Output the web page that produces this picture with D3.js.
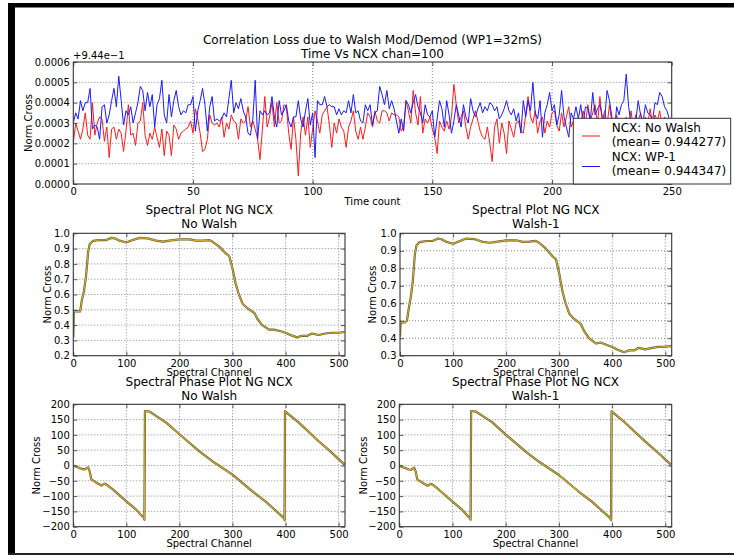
<!DOCTYPE html>
<html><head><meta charset="utf-8">
<script src="https://cdn.jsdelivr.net/npm/d3@7"></script>
<style>
body{margin:0;background:#fff;overflow:hidden}
svg{display:block}
text{font-family:"DejaVu Sans",sans-serif;fill:#000}
</style>
</head><body>
<svg id="chart" width="734" height="555"></svg>
<script>
// ---------- DATA ----------
// Top plot: Norm Cross vs time count, stored as offsets from 0.944 in units of 1e-4
const offsetBase = 0.944;
const timeTicks = [0, 50, 100, 150, 200, 250];
const timeYTicks = [0, 1, 2, 3, 4, 5, 6];
const seriesNames = ["NCX: No Walsh", "NCX: WP-1"];
const seriesMeans = ["(mean= 0.944277)", "(mean= 0.944347)"];
const noWalshTime = [
2.0,3.0,2.6,2.2,2.7,3.5,2.4,2.2,4.0,2.4, 3.0,3.3,3.2,2.1,2.8,1.3,2.7,2.8,2.2,2.7,
2.5,1.6,2.6,3.9,2.4,2.5,1.9,3.0,3.1,4.0, 2.4,1.9,2.5,2.2,2.8,2.3,1.8,2.7,1.4,2.6,
2.4,1.4,2.9,2.7,2.2,2.5,2.6,2.7,2.8,3.1, 2.5,3.7,3.2,2.5,1.6,1.7,2.2,3.4,3.0,2.9,
3.0,2.8,3.3,2.3,3.0,2.7,3.4,3.1,3.0,2.2, 3.2,3.0,3.1,3.8,2.8,3.1,2.7,2.2,1.2,2.7,
4.3,2.8,3.3,4.0,2.8,4.0,3.0,3.1,3.9,3.8, 2.5,1.7,3.3,2.2,0.4,2.5,3.3,2.4,3.3,1.8,
2.7,3.6,3.1,2.5,3.4,3.6,3.8,2.9,1.8,3.0, 2.5,3.2,2.8,2.6,1.8,2.8,3.1,3.6,2.6,2.2,
2.8,2.2,2.8,3.5,3.3,2.8,3.6,3.1,3.0,3.6, 3.6,3.5,3.1,3.5,3.4,3.4,3.3,2.6,2.8,4.1,
3.6,3.0,4.6,3.5,2.9,4.3,2.5,3.2,3.0,3.3, 2.7,2.3,1.5,3.1,2.8,2.6,3.1,2.7,3.3,4.9,
3.9,3.0,3.3,3.6,2.8,2.2,2.8,3.2,3.6,3.1, 2.6,2.3,2.2,2.8,2.0,1.1,2.8,3.2,2.0,3.0,
2.5,1.5,3.1,2.7,2.3,3.0,3.1,2.6,2.5,3.4, 4.3,3.3,3.0,3.6,2.5,3.1,3.3,2.5,3.1,2.8,
3.5,3.6,2.9,2.6,3.5,2.8,3.3,3.8,2.8,3.1, 2.5,3.1,2.9,3.6,3.0,3.9,3.1,3.5,3.9,2.9,
4.3,3.1,3.6,2.9,3.9,3.0,2.6,3.4,2.8,3.2, 2.5,3.3,2.9,3.6,2.7,3.4,3.1,3.5,2.8,3.3,
3.0,3.7,2.9,3.4,3.1,3.6,2.8,3.3,3.0,2.9
];
const wp1Time = [
3.0,3.5,3.2,4.1,3.6,4.0,4.0,4.7,2.7,2.9, 2.8,2.2,3.8,3.9,3.0,3.4,4.1,4.7,3.8,5.3,
4.1,2.9,3.6,3.4,3.8,3.0,3.5,4.0,4.8,4.6, 3.6,4.5,3.8,4.4,2.8,3.9,4.2,5.1,3.4,3.0,
4.4,3.3,4.1,4.6,3.8,3.4,3.6,3.5,3.9,3.9, 4.3,2.6,3.6,4.1,4.7,3.9,2.6,3.8,4.3,3.1,
3.2,3.1,3.2,3.5,3.3,4.2,5.1,3.5,4.0,3.7, 4.2,3.6,3.3,2.5,2.4,3.2,5.1,2.2,3.6,3.4,
3.6,3.4,3.5,4.3,3.3,2.8,4.1,3.4,3.6,3.9, 3.1,2.8,3.3,3.3,4.1,3.2,2.8,3.6,4.2,2.9,
3.5,1.3,4.1,3.9,3.9,4.3,3.8,3.9,3.8,3.8, 3.4,3.7,3.4,3.6,3.5,4.1,3.5,4.4,3.5,3.6,
3.1,3.0,3.9,3.6,3.9,2.9,3.5,3.6,4.8,4.4, 3.9,4.6,3.7,4.1,3.7,3.1,2.5,3.2,2.6,4.1,
3.9,3.5,4.0,4.4,3.8,3.5,3.0,3.9,3.4,3.3, 3.6,2.3,3.2,4.1,3.7,2.8,4.1,3.4,2.5,3.1,
3.9,3.4,2.8,3.9,3.3,3.0,4.2,3.6,3.3,3.7, 4.0,3.5,3.8,3.6,4.0,3.9,3.6,3.8,3.2,3.4,
3.7,4.1,3.6,3.4,3.7,3.1,3.5,2.5,4.1,3.3, 4.1,3.6,5.0,3.5,3.2,4.1,2.3,3.5,3.9,4.5,
3.6,3.9,2.9,3.4,4.6,3.3,2.8,2.3,3.5,3.2, 3.8,3.2,3.9,3.0,3.8,3.7,3.1,4.5,3.4,3.7,
3.9,3.3,3.2,4.6,4.1,3.3,2.5,3.8,3.4,3.9, 4.1,5.4,3.8,3.0,2.6,3.1,4.1,3.4,3.0,3.9,
3.5,3.4,3.1,4.0,3.9,4.5,4.3,3.8,3.6,3.2
];

// Spectral amplitude plots
const chanTicks = [0, 100, 200, 300, 400, 500];
const ampChan = [0,1,9,13,16,20,24,28,31,37,50,62,72,78,87,100,112,125,140,156,169,181,200,219,231,244,256,262,275,287,294,300,306,312,319,328,341,347,356,369,378,391,400,409,422,431,441,450,462,475,487,500,511];
const ampNoWalsh = [0.32,0.49,0.49,0.49,0.56,0.62,0.72,0.88,0.93,0.95,0.956,0.956,0.97,0.967,0.952,0.94,0.956,0.97,0.967,0.952,0.946,0.952,0.96,0.96,0.952,0.952,0.956,0.946,0.913,0.87,0.85,0.77,0.67,0.60,0.54,0.51,0.48,0.44,0.40,0.37,0.37,0.36,0.35,0.335,0.32,0.33,0.33,0.345,0.335,0.345,0.35,0.35,0.355];
const ampWalsh1 = [0.41,0.49,0.49,0.50,0.56,0.63,0.72,0.88,0.93,0.95,0.956,0.957,0.97,0.966,0.952,0.94,0.955,0.97,0.967,0.951,0.946,0.951,0.96,0.96,0.951,0.952,0.957,0.946,0.912,0.87,0.85,0.77,0.67,0.60,0.54,0.51,0.48,0.44,0.40,0.37,0.375,0.36,0.35,0.335,0.32,0.33,0.33,0.345,0.336,0.345,0.35,0.352,0.355];
const ampTicksNoWalsh = [0.2,0.3,0.4,0.5,0.6,0.7,0.8,0.9,1.0];
const ampTicksWalsh1 = [0.3,0.4,0.5,0.6,0.7,0.8,0.9,1.0];

// Spectral phase plots
const phaseTicks = [-200,-150,-100,-50,0,50,100,150,200];
const phaseChan = [0,5,12,18,22,26,28,31,34,40,44,50,53,59,62,75,100,119,133,134,135,144,175,200,237,262,300,337,362,397,398,399,425,462,487,511];
const phaseNoWalsh = [0,-4,-8,-12,-13,-8,-6,-20,-46,-52,-57,-62,-66,-59,-62,-79,-117,-145,-172,-177,178,176,140,102,47,14,-30,-84,-117,-172,-178,177,140,80,42,3];
const phaseWalsh1 = [0,-5,-9,-13,-14,-9,-7,-21,-47,-52,-57,-63,-66,-60,-62,-80,-118,-146,-173,-177,178,176,141,101,46,13,-31,-85,-118,-173,-178,177,139,79,41,2];

// ---------- DRAW ----------
const svg = d3.select("#chart");
const FONT = "DejaVu Sans, sans-serif";

// outer dark frame of the screenshot
svg.append("rect").attr("x",8).attr("y",3).attr("width",726).attr("height",4.5).attr("fill","#000");
svg.append("rect").attr("x",8).attr("y",3).attr("width",7).attr("height",552).attr("fill","#000");
svg.append("rect").attr("x",8).attr("y",553).attr("width",726).attr("height",2).attr("fill","#222");

let clipId = 0;
function panel(o){
  const g = svg.append("g");
  const x = d3.scaleLinear().domain(o.xDomain).range([o.x0, o.x1]);
  const y = d3.scaleLinear().domain(o.yDomain).range([o.y1, o.y0]);
  // grid
  g.append("g").selectAll("line").data(o.xTicks.filter(d=>d>o.xDomain[0] && d<o.xDomain[1])).join("line")
    .attr("x1",d=>x(d)).attr("x2",d=>x(d)).attr("y1",o.y0).attr("y2",o.y1)
    .attr("stroke","#6a6a6a").attr("stroke-width",0.8).attr("stroke-dasharray","1,2");
  g.append("g").selectAll("line").data(o.yTicks.filter(d=>d>o.yDomain[0] && d<o.yDomain[1])).join("line")
    .attr("y1",d=>y(d)).attr("y2",d=>y(d)).attr("x1",o.x0).attr("x2",o.x1)
    .attr("stroke","#6a6a6a").attr("stroke-width",0.8).attr("stroke-dasharray","1,2");
  // clip
  const id = "clip" + (clipId++);
  svg.append("clipPath").attr("id",id).append("rect")
    .attr("x",o.x0).attr("y",o.y0).attr("width",o.x1-o.x0).attr("height",o.y1-o.y0);
  const lg = g.append("g").attr("clip-path",`url(#${id})`);
  o.series.forEach(s=>{
    const line = d3.line().x((d,i)=>x(s.xs[i])).y(d=>y(d));
    s.styles.forEach(st=>{
      lg.append("path").datum(s.ys).attr("d",line).attr("fill","none")
        .attr("stroke",st.color).attr("stroke-width",st.width).attr("stroke-linejoin","round");
    });
  });
  // axes
  const styleAxis = a => {
    a.attr("font-family",FONT).attr("font-size",10);
    a.select(".domain").remove();
    a.selectAll(".tick line").attr("stroke","#333").attr("stroke-width",0.8);
    a.selectAll(".tick text").attr("fill","#111");
  };
  g.append("g").attr("transform",`translate(0,${o.y1})`)
    .call(d3.axisBottom(x).tickValues(o.xTicks).tickSize(-4).tickPadding(4).tickFormat(o.xFormat||d3.format("d")))
    .call(styleAxis);
  g.append("g").attr("transform",`translate(0,${o.y0})`)
    .call(d3.axisTop(x).tickValues(o.xTicks).tickSize(-4).tickFormat(""))
    .call(styleAxis);
  g.append("g").attr("transform",`translate(${o.x0},0)`)
    .call(d3.axisLeft(y).tickValues(o.yTicks).tickSize(-4).tickPadding(3.5).tickFormat(o.yFormat))
    .call(styleAxis);
  g.append("g").attr("transform",`translate(${o.x1},0)`)
    .call(d3.axisRight(y).tickValues(o.yTicks).tickSize(-4).tickFormat(""))
    .call(styleAxis);
  // frame
  g.append("rect").attr("x",o.x0).attr("y",o.y0).attr("width",o.x1-o.x0).attr("height",o.y1-o.y0)
    .attr("fill","none").attr("stroke","#333").attr("stroke-width",1.1);
  // titles and labels
  const cx = (o.x0+o.x1)/2;
  o.titles.forEach(t=>{
    svg.append("text").attr("x",t.x!==undefined?t.x:cx).attr("y",t.y).attr("text-anchor","middle")
      .attr("font-size",12).text(t.text);
  });
  if(o.xlabel) svg.append("text").attr("x",cx).attr("y",o.xlabel.y).attr("text-anchor","middle")
      .attr("font-size",10).text(o.xlabel.text);
  svg.append("text").attr("transform",`translate(${o.ylabelX},${(o.y0+o.y1)/2}) rotate(-90)`)
      .attr("text-anchor","middle").attr("font-size",10).text("Norm Cross");
  return {x,y};
}

const timeIdx = noWalshTime.map((d,i)=>i);
const spectralStyle = [{color:"#5c5a2c",width:2.2},{color:"#d2ac34",width:1.1}];

// Top panel
panel({
  x0:73.3, x1:671.7, y0:62, y1:184,
  xDomain:[0,250], yDomain:[0,6],
  xTicks:timeTicks, yTicks:timeYTicks,
  yFormat:d=>(d/10000).toFixed(4),
  series:[
    {xs:timeIdx, ys:noWalshTime, styles:[{color:"#ff1a1a",width:1}]},
    {xs:timeIdx, ys:wp1Time, styles:[{color:"#1a1aff",width:1}]}
  ],
  titles:[{text:"Correlation Loss due to Walsh Mod/Demod (WP1=32mS)",y:44},{text:"Time Vs NCX chan=100",y:58}],
  xlabel:{text:"Time count",y:205},
  ylabelX:32
});
svg.append("text").attr("x",73).attr("y",59).attr("font-size",10).text("+9.44e\u22121");

// Middle panels
panel({
  x0:73.3, x1:345, y0:233.3, y1:355.7,
  xDomain:[0,512], yDomain:[0.2,1.0],
  xTicks:chanTicks, yTicks:ampTicksNoWalsh, yFormat:d3.format(".1f"),
  series:[{xs:ampChan, ys:ampNoWalsh, styles:spectralStyle}],
  titles:[{text:"Spectral Plot NG NCX",y:214},{text:"No Walsh",y:228}],
  xlabel:{text:"Spectral Channel",y:376},
  ylabelX:51
});
panel({
  x0:400, x1:671.7, y0:233.3, y1:355.7,
  xDomain:[0,512], yDomain:[0.3,1.0],
  xTicks:chanTicks, yTicks:ampTicksWalsh1, yFormat:d3.format(".1f"),
  series:[{xs:ampChan, ys:ampWalsh1, styles:spectralStyle}],
  titles:[{text:"Spectral Plot NG NCX",y:214},{text:"Walsh-1",y:228}],
  xlabel:{text:"Spectral Channel",y:376},
  ylabelX:376
});

// Bottom panels
panel({
  x0:73.3, x1:345, y0:404.3, y1:526.7,
  xDomain:[0,512], yDomain:[-200,200],
  xTicks:chanTicks, yTicks:phaseTicks, yFormat:d3.format("d"),
  series:[{xs:phaseChan, ys:phaseNoWalsh, styles:spectralStyle}],
  titles:[{text:"Spectral Phase Plot NG NCX",y:386},{text:"No Walsh",y:400}],
  xlabel:{text:"Spectral Channel",y:547},
  ylabelX:40
});
panel({
  x0:399.3, x1:671.7, y0:404.3, y1:526.7,
  xDomain:[0,512], yDomain:[-200,200],
  xTicks:chanTicks, yTicks:phaseTicks, yFormat:d3.format("d"),
  series:[{xs:phaseChan, ys:phaseWalsh1, styles:spectralStyle}],
  titles:[{text:"Spectral Phase Plot NG NCX",y:386},{text:"Walsh-1",y:400}],
  xlabel:{text:"Spectral Channel",y:547},
  ylabelX:366.5
});

// Legend for the top panel
const leg = svg.append("g");
leg.append("rect").attr("x",573.3).attr("y",118.3).attr("width",157.4).attr("height",65.7)
  .attr("fill","#fff").attr("stroke","#333").attr("stroke-width",1);
const legColors = ["#ff1a1a","#1a1aff"];
const legRows = [{line:136,t1:132,t2:146},{line:166.5,t1:161,t2:175}];
seriesNames.forEach((n,i)=>{
  leg.append("line").attr("x1",582).attr("x2",600).attr("y1",legRows[i].line).attr("y2",legRows[i].line)
    .attr("stroke",legColors[i]).attr("stroke-width",1);
  leg.append("text").attr("x",611.7).attr("y",legRows[i].t1).attr("font-size",12).text(n);
  leg.append("text").attr("x",611.7).attr("y",legRows[i].t2).attr("font-size",12).text(seriesMeans[i]);
});
</script>
</body></html>
